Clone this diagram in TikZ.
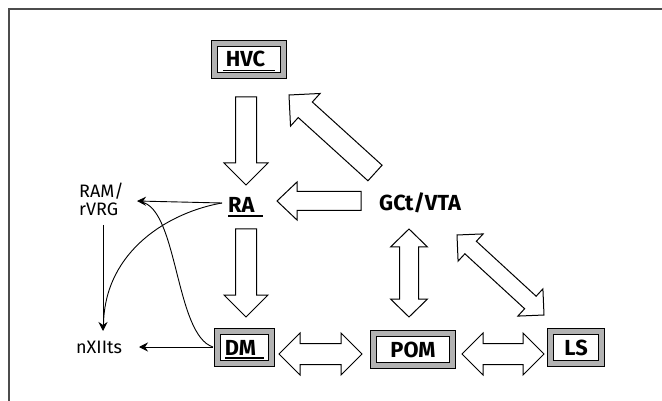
\documentclass[tikz,border=0pt]{standalone}
\usepackage{fontspec}
\setmainfont{Fira Sans}
\usetikzlibrary{calc,arrows.meta}
\newcommand\ulbox[1]{\vtop{\hbox{#1}\kern2.2pt\hrule height1.8pt}}
% single hollow block arrow: tail, tip, shaft half width, head half width, head length
\newcommand\sarrow[5]{%
  \path ($(#2)!#5!(#1)$) coordinate (hb);
  \draw[blk] ($(#1)!#3!90:(#2)$) -- ($(hb)!#3!90:(#2)$) -- ($(hb)!#4!90:(#2)$) -- (#2)
    -- ($(hb)!#4!-90:(#2)$) -- ($(hb)!#3!-90:(#2)$) -- ($(#1)!#3!-90:(#2)$) -- cycle;}
% double hollow block arrow
\newcommand\darrow[5]{%
  \path ($(#1)!#5!(#2)$) coordinate (ha) ($(#2)!#5!(#1)$) coordinate (hb);
  \draw[blk] (#1) -- ($(ha)!#4!90:(#2)$) -- ($(ha)!#3!90:(#2)$) -- ($(hb)!#3!90:(#2)$)
    -- ($(hb)!#4!90:(#2)$) -- (#2) -- ($(hb)!#4!-90:(#2)$) -- ($(hb)!#3!-90:(#2)$)
    -- ($(ha)!#3!-90:(#2)$) -- ($(ha)!#4!-90:(#2)$) -- cycle;}
\begin{document}
\begin{tikzpicture}[x=1pt,y=-1pt,
  blk/.style={draw=black,line width=1pt,fill=white,line join=miter},
  box/.style={draw=black,line width=1pt,double=black!30,double distance=5pt,
    fill=white,minimum height=32pt,inner sep=0pt,text height=15pt,text depth=0pt,
    font=\bfseries\fontsize{21.8}{24}\selectfont},
  bold/.style={inner sep=0pt,font=\bfseries\fontsize{21.8}{24}\selectfont},
  plain/.style={inner sep=0pt,font=\fontsize{18}{18}\selectfont},
  conn/.style={draw=black,line width=0.9pt},
  tip/.style={-{Stealth[length=9pt,width=9pt,inset=3pt]}}]
\useasboundingbox (0,0) rectangle (662,401);
\draw[black!70,line width=1.6pt] (9,401) -- (9,9) -- (662,9);

% boxed nodes
\node[box,minimum width=69pt] (hvc) at (249,59.5) {\ulbox{\hspace{3pt}HVC\hspace{10pt}}};
\node[box,minimum width=54pt] (dm) at (244.5,347.5) {\ulbox{DM\hspace{8pt}}};
\node[box,minimum width=79pt] (pom) at (413,349.5) {POM};
\node[box,minimum width=51pt] (ls) at (576,347.5) {LS};

% text nodes
\node[bold,anchor=base west] (ra) at (228,213) {\ulbox{RA\hspace{8pt}}};
\node[bold,anchor=base west] (gct) at (379,211) {GCt/VTA};
\node[plain,anchor=base west] (rvrg) at (79,198) {\vtop{\baselineskip=18pt\lineskiplimit=0pt\hbox{RAM/}\hbox{rVRG}}};
\node[plain,anchor=base west] (nxii) at (76,353) {nXIIts};

% block arrows
\coordinate (a1) at (246,97);  \coordinate (b1) at (246,185);
\coordinate (a2) at (246,229); \coordinate (b2) at (246,317);
\coordinate (a3) at (361,201); \coordinate (b3) at (277,201);
\coordinate (a4) at (375,173); \coordinate (b4) at (289,95);
\coordinate (a5) at (409,229); \coordinate (b5) at (409,317);
\coordinate (a6) at (457,235); \coordinate (b6) at (544,315);
\coordinate (a7) at (279,354); \coordinate (b7) at (362,354);
\coordinate (a8) at (462,354); \coordinate (b8) at (544,354);
\sarrow{a1}{b1}{10.5pt}{22pt}{22pt}
\sarrow{a2}{b2}{10.5pt}{22pt}{22pt}
\sarrow{a3}{b3}{9.5pt}{19pt}{20pt}
\sarrow{a4}{b4}{10.5pt}{22pt}{22pt}
\darrow{a5}{b5}{9.5pt}{18.5pt}{18pt}
\darrow{a6}{b6}{8.5pt}{18.5pt}{18.5pt}
\darrow{a7}{b7}{10.5pt}{21pt}{21pt}
\darrow{a8}{b8}{10.5pt}{21pt}{21pt}

% thin connectors
\coordinate (raL) at (222,203);
\coordinate (rvT) at (137,201);
\coordinate (rvB) at (103,225);
\coordinate (nxT) at (103,331);
\coordinate (dmL) at (213,347);
\coordinate (nxR) at (139,347);
\draw[conn,tip] (raL) -- (rvT);
\draw[conn] (raL) .. controls (170,212) and (105,250) .. (103.5,324);
\draw[conn,tip] (rvB) -- (nxT);
\draw[conn] (dmL) .. controls (175,335) and (178,208) .. (141,202);
\draw[conn,tip] (dmL) -- (nxR);
\end{tikzpicture}
\end{document}
